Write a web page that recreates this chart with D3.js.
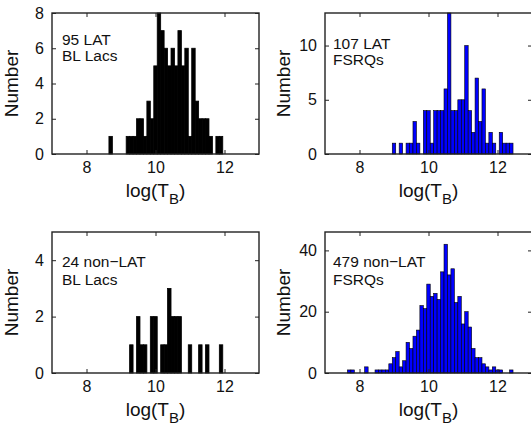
<!DOCTYPE html>
<html><head><meta charset="utf-8">
<script src="https://cdn.jsdelivr.net/npm/d3@7"></script>
<style>body{margin:0;background:#fff}svg{display:block}text{font-family:Arial,"Liberation Sans",Helvetica,sans-serif}</style>
</head><body>
<script>
// ---- data ----
const xTicks = [8, 10, 12];
const xDomain = [7, 13];
const binWidth = 0.1;

const latBLLacCenters = [8.7, 9.2, 9.3, 9.4, 9.5, 9.6, 9.7, 9.8, 9.9, 10.0, 10.1, 10.2, 10.3, 10.4, 10.5, 10.6, 10.7, 10.8, 10.9, 11.0, 11.1, 11.2, 11.3, 11.4, 11.5, 11.6, 11.7, 11.8, 11.9];
const latBLLacCounts  = [1,   1,   1,   1,   2,   2,   1,   3,   2,   5,    8,    7,    6,    5,    6,    5,    7,    5,    6,    1,    6,    3,    2,    2,    2,    1,    0,    1,    1];

const latFSRQCenters = [9.0, 9.2, 9.4, 9.5, 9.6, 9.7, 9.8, 9.9, 10.0, 10.1, 10.2, 10.3, 10.4, 10.5, 10.6, 10.7, 10.8, 10.9, 11.0, 11.1, 11.2, 11.3, 11.4, 11.5, 11.6, 11.7, 11.8, 11.9, 12.0, 12.1, 12.2, 12.3, 12.4];
const latFSRQCounts  = [1,   1,   1,   1,   3,   1,   0,   4,   4,    1,    4,    4,    4,    6,    13,   4,    4,    5,    5,    10,   4,    2,    7,    3,    6,    1,    2,    1,    0,    2,    1,    1,    1];

const nonBLLacCenters = [9.3, 9.5, 9.6, 9.7, 9.9, 10.0, 10.2, 10.3, 10.4, 10.5, 10.6, 10.7, 11.0, 11.3, 11.5, 11.9];
const nonBLLacCounts  = [1,   2,   1,   1,   2,   2,    1,    1,    3,    2,    2,    2,    1,    1,    1,    1];

const nonFSRQCenters = [7.7, 7.8, 8.2, 8.5, 8.6, 8.7, 8.8, 8.9, 9.0, 9.1, 9.2, 9.3, 9.4, 9.5, 9.6, 9.7, 9.8, 9.9, 10.0, 10.1, 10.2, 10.3, 10.4, 10.5, 10.6, 10.7, 10.8, 10.9, 11.0, 11.1, 11.2, 11.3, 11.4, 11.5, 11.6, 11.7, 11.8, 11.9, 12.0, 12.1, 12.4];
const nonFSRQCounts  = [1,   1,   2,   1,   1,   1,   1,   3,   5,   7,   2,   4,   10,  8,   12,  14,  22,  21,  29,   25,   26,   24,   33,   42,   32,   34,   23,   25,   16,   20,   15,   8,    5,    5,    3,    2,    1,    2,    1,    1,    1];

const panels = [
  {centers: latBLLacCenters, counts: latBLLacCounts, yMax: 8,  yTicks: [0,2,4,6,8], label: ["95 LAT", "BL Lacs"], color: "#000000", edge: false},
  {centers: latFSRQCenters,  counts: latFSRQCounts,  yMax: 13, yTicks: [0,5,10],    label: ["107 LAT", "FSRQs"],  color: "#0000ff", edge: true},
  {centers: nonBLLacCenters, counts: nonBLLacCounts, yMax: 5,  yTicks: [0,2,4],     label: ["24 non\u2212LAT", "BL Lacs"], color: "#000000", edge: false},
  {centers: nonFSRQCenters,  counts: nonFSRQCounts,  yMax: 46, yTicks: [0,20,40],   label: ["479 non\u2212LAT", "FSRQs"], color: "#0000ff", edge: true}
];

// ---- layout ----
const W = 531, H = 428;
const svg = d3.select("body").append("svg").attr("width", W).attr("height", H);
const lefts = [52, 325];
const tops = [13, 232];
const pw = 207, ph = 141;

panels.forEach((p, i) => {
  const col = i % 2, row = Math.floor(i / 2);
  const g = svg.append("g").attr("transform", `translate(${lefts[col]},${tops[row]})`);
  const x = d3.scaleLinear().domain(xDomain).range([0, pw]);
  const y = d3.scaleLinear().domain([0, p.yMax]).range([ph, 0]);

  const data = p.centers.map((c, k) => ({c, n: p.counts[k]})).filter(d => d.n > 0);
  g.selectAll("rect.bar").data(data).join("rect")
    .attr("class", "bar")
    .attr("x", d => x(d.c - binWidth / 2))
    .attr("width", d => x(d.c + binWidth / 2) - x(d.c - binWidth / 2))
    .attr("y", d => y(d.n))
    .attr("height", d => y(0) - y(d.n))
    .attr("fill", p.color)
    .attr("stroke", p.edge ? "#000" : p.color)
    .attr("stroke-width", p.edge ? 0.6 : 0.8);

  // axes with inward ticks (box style)
  const ax = (gen, tr) => {
    const a = g.append("g").attr("transform", tr).call(gen);
    a.select(".domain").remove();
    a.selectAll("line").attr("stroke", "#222").attr("stroke-width", 1);
    a.selectAll("text").attr("font-size", 16).attr("fill", "#111");
    return a;
  };
  ax(d3.axisBottom(x).tickValues(xTicks).tickFormat(d3.format("d")).tickSize(-4).tickPadding(8), `translate(0,${ph})`);
  ax(d3.axisTop(x).tickValues(xTicks).tickFormat("").tickSize(-4), `translate(0,0)`);
  ax(d3.axisLeft(y).tickValues(p.yTicks).tickFormat(d3.format("d")).tickSize(-4).tickPadding(8), `translate(0,0)`);
  ax(d3.axisRight(y).tickValues(p.yTicks).tickFormat("").tickSize(-4), `translate(${pw},0)`);

  g.append("rect").attr("x", 0).attr("y", 0).attr("width", pw).attr("height", ph)
    .attr("fill", "none").attr("stroke", "#222").attr("stroke-width", 1.4);

  // annotation
  const ty = row === 0 ? (col === 0 ? [32, 48] : [36, 52]) : [35, 53];
  const tx = col === 0 ? 10 : 8;
  p.label.forEach((t, k) => {
    g.append("text").attr("x", tx).attr("y", ty[k]).attr("font-size", 15.5).attr("fill", "#111").text(t);
  });

  // x label
  const xl = g.append("text").attr("x", pw / 2).attr("y", ph + 43).attr("text-anchor", "middle")
    .attr("font-size", 19).attr("fill", "#111");
  xl.append("tspan").text("log(T");
  xl.append("tspan").attr("font-size", 15).attr("dy", 7).text("B");
  xl.append("tspan").attr("dy", -7).text(")");

  // y label
  g.append("text").attr("transform", `translate(${col === 0 ? -34 : -35},${ph / 2}) rotate(-90)`)
    .attr("text-anchor", "middle").attr("font-size", 19).attr("fill", "#111").text("Number");
});
</script>
</body></html>
